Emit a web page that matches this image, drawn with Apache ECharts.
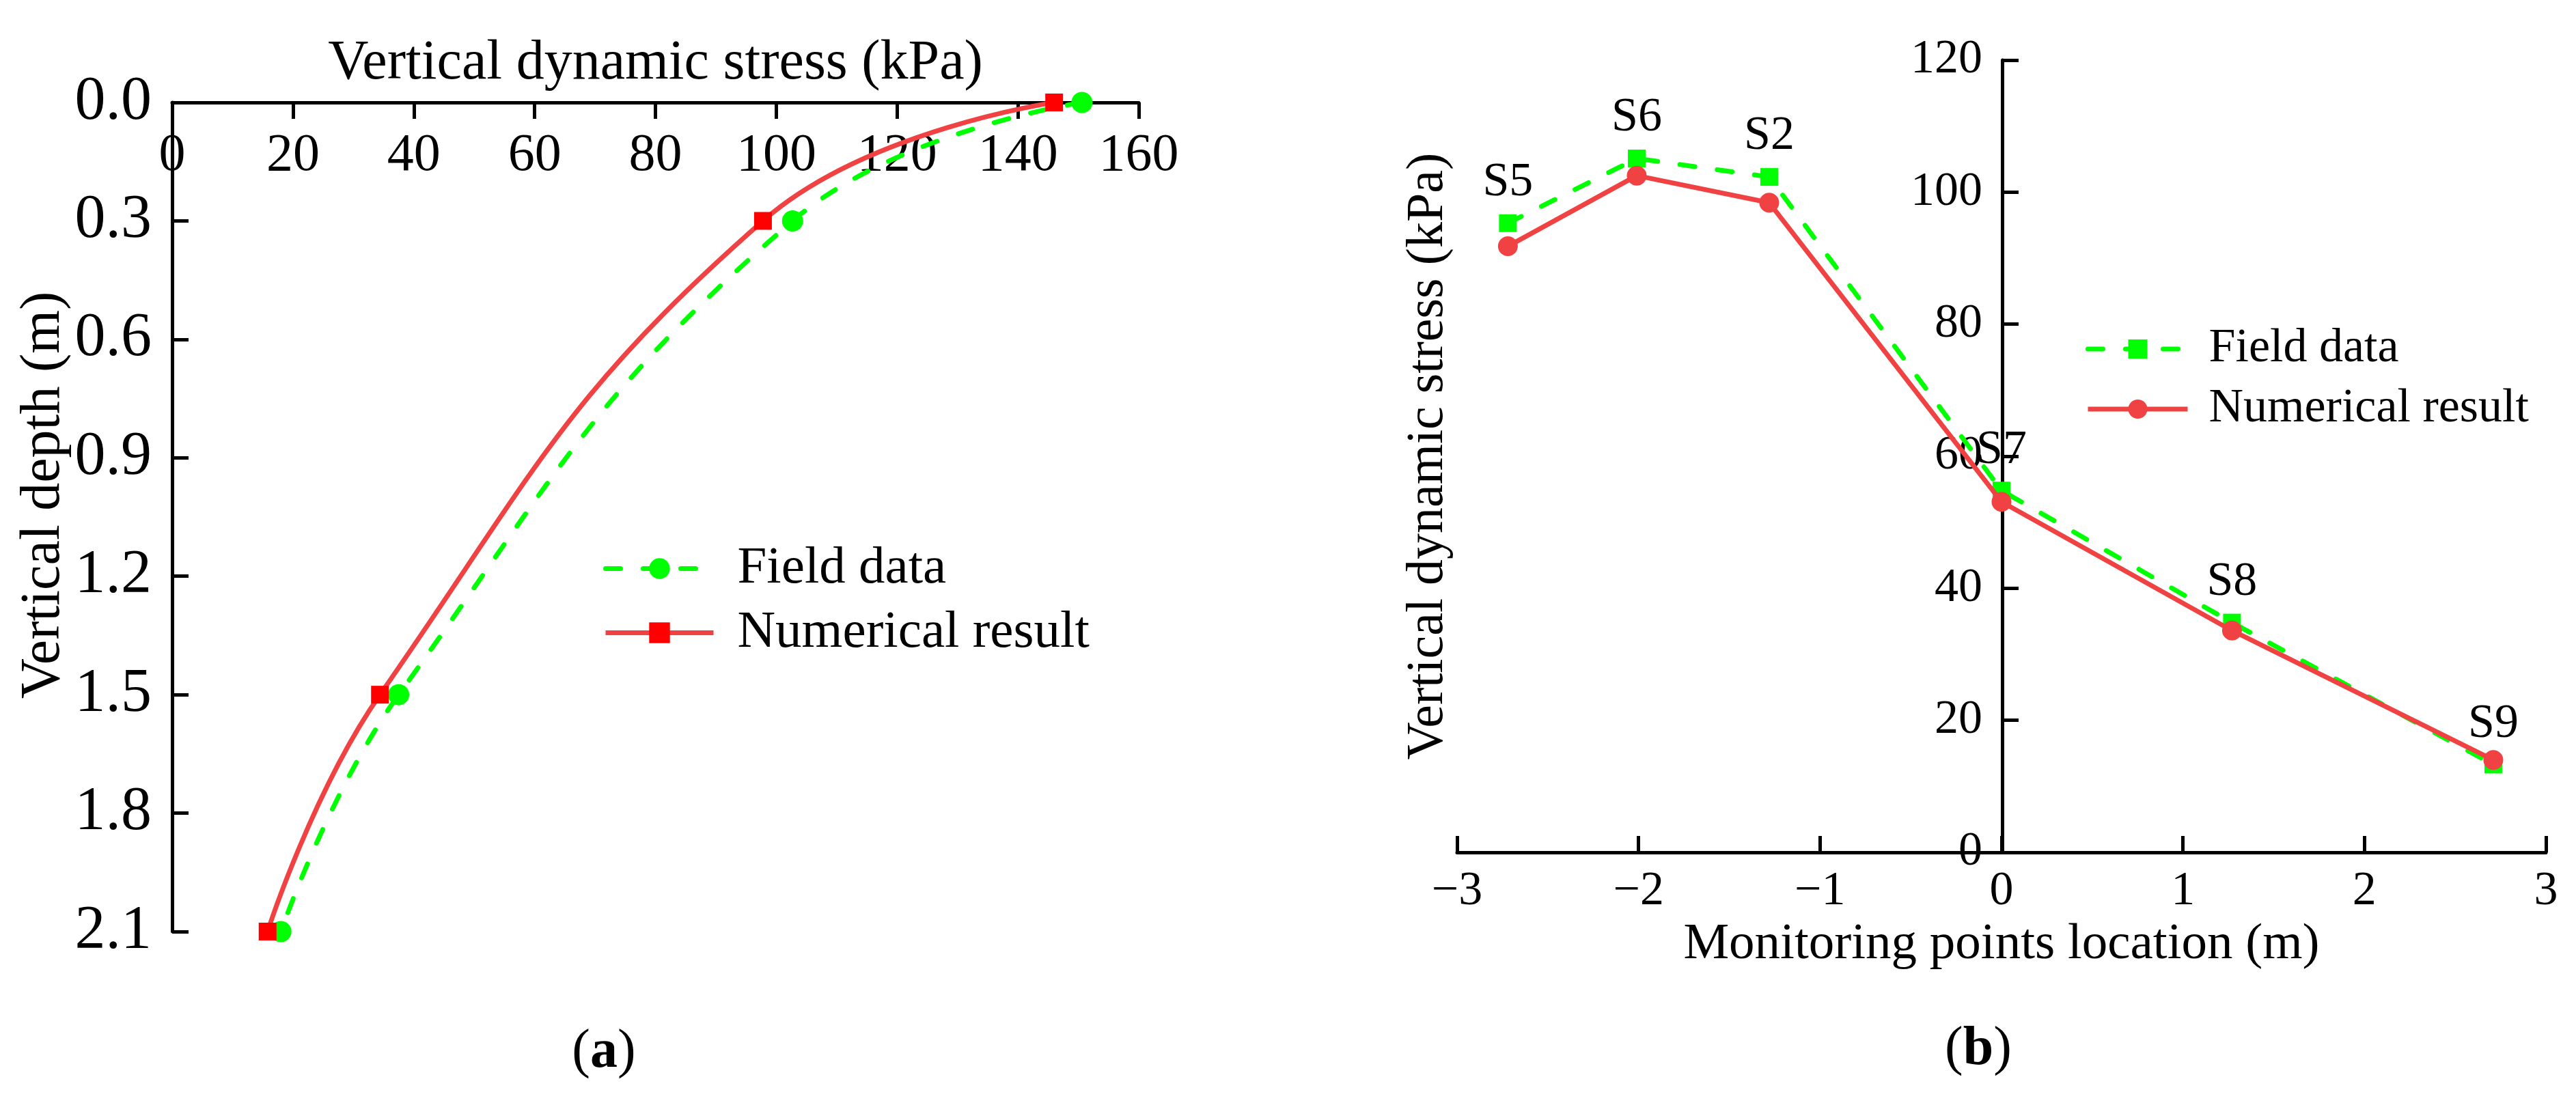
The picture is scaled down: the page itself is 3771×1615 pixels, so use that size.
<!DOCTYPE html>
<html>

<head>
  <meta charset="utf-8" />
  <script src="https://cdn.jsdelivr.net/npm/echarts@6/dist/echarts.min.js"></script>
  <style>
    body { margin: 0; background: #fff; }
  </style>
</head>

<body>
  <div id="main" style="width: 3771px;height:1615px;"></div>
  <script type="text/javascript">
    // (a) stress vs depth
    var depthA = [0, 0.3, 1.5, 2.1]
    var fieldA = [150.6, 102.7, 37.5, 18.0]
    var numA = [146.0, 97.8, 34.4, 15.8]

    // (b) stress along monitoring points
    var pointNames = ['S5', 'S6', 'S2', 'S7', 'S8', 'S9']
    var locB = [-2.72, -2.01, -1.28, 0, 1.27, 2.71]
    var fieldB = [95.3, 105.1, 102.3, 54.8, 34.8, 13.3]
    var numB = [91.8, 102.5, 98.4, 53.1, 33.6, 14.0]

    var font = 'Liberation Serif'
    var green = '#00ff00'
    var red = '#f04242'

    function pairs(xs, ys) {
      return xs.map(function (x, i) { return [x, ys[i]] })
    }
    function minus(v) {
      return v < 0 ? '\u2212' + Math.abs(v) : String(v)
    }

    var myChart = echarts.init(document.getElementById('main'));

    var axisLine = { onZero: false, lineStyle: { color: '#000', width: 5 } }
    var axisTick = { inside: true, length: 24, lineStyle: { color: '#000', width: 5 } }

    var option = {
      animation: false,
      backgroundColor: '#fff',
      textStyle: { fontFamily: font, color: '#000' },
      grid: [
        { left: 252, top: 150, width: 1415, height: 1214 },
        { left: 2133, top: 88, width: 1594, height: 1160 }
      ],
      legend: [
        {
          left: 878, top: 789, orient: 'vertical',
          itemWidth: 158, itemHeight: 38, itemGap: 17,
          lineStyle: { width: 7 },
          textStyle: { fontFamily: font, fontSize: 77, color: '#000', padding: [0, 0, 0, 30] },
          data: ['Field data a', 'Numerical result a'],
          formatter: function (n) { return n.replace(/ a$/, '') }
        },
        {
          left: 3048, top: 471, orient: 'vertical',
          itemWidth: 146, itemHeight: 35, itemGap: 18,
          lineStyle: { width: 7 },
          textStyle: { fontFamily: font, fontSize: 70, color: '#000', padding: [0, 0, 0, 26] },
          data: ['Field data b', 'Numerical result b'],
          formatter: function (n) { return n.replace(/ b$/, '') }
        }
      ],
      xAxis: [
        {
          gridIndex: 0, type: 'value', position: 'top', min: 0, max: 160, interval: 20,
          name: 'Vertical dynamic stress (kPa)', nameLocation: 'middle', nameGap: 16,
          nameTextStyle: { fontFamily: font, fontSize: 82, color: '#000' },
          axisLine: axisLine, axisTick: axisTick, splitLine: { show: false },
          axisLabel: { inside: true, margin: 40, fontFamily: font, fontSize: 78, color: '#000' }
        },
        {
          gridIndex: 1, type: 'value', position: 'bottom', min: -3, max: 3, interval: 1,
          name: 'Monitoring points location (m)', nameLocation: 'middle', nameGap: 97,
          nameTextStyle: { fontFamily: font, fontSize: 75, color: '#000' },
          axisLine: axisLine, axisTick: axisTick, splitLine: { show: false },
          axisLabel: { margin: 23, fontFamily: font, fontSize: 70, color: '#000', formatter: minus }
        }
      ],
      yAxis: [
        {
          gridIndex: 0, type: 'value', inverse: true, min: 0, max: 2.1, interval: 0.3,
          name: 'Vertical depth (m)', nameLocation: 'middle', nameGap: 132,
          nameTextStyle: { fontFamily: font, fontSize: 82, color: '#000', padding: [0, 0, 0, 64] },
          axisLine: axisLine, axisTick: axisTick, splitLine: { show: false },
          axisLabel: {
            margin: 30, fontFamily: font, fontSize: 90, color: '#000',
            formatter: function (v) { return v.toFixed(1) }
          }
        },
        {
          // axis drawn at x = 0 of the location axis
          gridIndex: 1, type: 'value', min: 0, max: 120, interval: 20, offset: -798,
          name: 'Vertical dynamic stress (kPa)', nameLocation: 'middle', nameGap: 802,
          nameTextStyle: { fontFamily: font, fontSize: 76, color: '#000' },
          axisLine: axisLine, axisTick: axisTick, splitLine: { show: false },
          axisLabel: { margin: 29, fontFamily: font, fontSize: 70, color: '#000' }
        }
      ],
      series: [
        {
          name: 'Field data a', type: 'line', xAxisIndex: 0, yAxisIndex: 0,
          data: pairs(fieldA, depthA), smooth: 0.45,
          symbol: 'circle', symbolSize: 31,
          itemStyle: { color: green },
          lineStyle: { color: green, width: 7, type: [22, 33], cap: 'round' },
          z: 2
        },
        {
          name: 'Numerical result a', type: 'line', xAxisIndex: 0, yAxisIndex: 0,
          data: pairs(numA, depthA), smooth: 0.45,
          symbol: 'rect', symbolSize: 26,
          itemStyle: { color: '#ff0000' },
          lineStyle: { color: red, width: 7 },
          z: 3
        },
        {
          name: 'Field data b', type: 'line', xAxisIndex: 1, yAxisIndex: 1,
          data: pairs(locB, fieldB),
          symbol: 'rect', symbolSize: 26,
          itemStyle: { color: green },
          lineStyle: { color: green, width: 7, type: [22, 33], cap: 'round' },
          label: {
            show: true, position: 'top', distance: 11,
            fontFamily: font, fontSize: 70, color: '#000',
            formatter: function (p) { return pointNames[p.dataIndex] }
          },
          z: 2
        },
        {
          name: 'Numerical result b', type: 'line', xAxisIndex: 1, yAxisIndex: 1,
          data: pairs(locB, numB),
          symbol: 'circle', symbolSize: 29,
          itemStyle: { color: red },
          lineStyle: { color: red, width: 7 },
          z: 3
        }
      ],
      graphic: [
        {
          type: 'text', x: 884, y: 1541,
          style: {
            text: '({b|a})', x: 0, y: 0, align: 'center', verticalAlign: 'middle',
            fontFamily: font, fontSize: 80, fill: '#000',
            rich: { b: { fontFamily: font, fontSize: 80, fontWeight: 'bold' } }
          }
        },
        {
          type: 'text', x: 2896, y: 1537,
          style: {
            text: '({b|b})', x: 0, y: 0, align: 'center', verticalAlign: 'middle',
            fontFamily: font, fontSize: 80, fill: '#000',
            rich: { b: { fontFamily: font, fontSize: 80, fontWeight: 'bold' } }
          }
        }
      ]
    };

    myChart.setOption(option);
  </script>
</body>

</html>
